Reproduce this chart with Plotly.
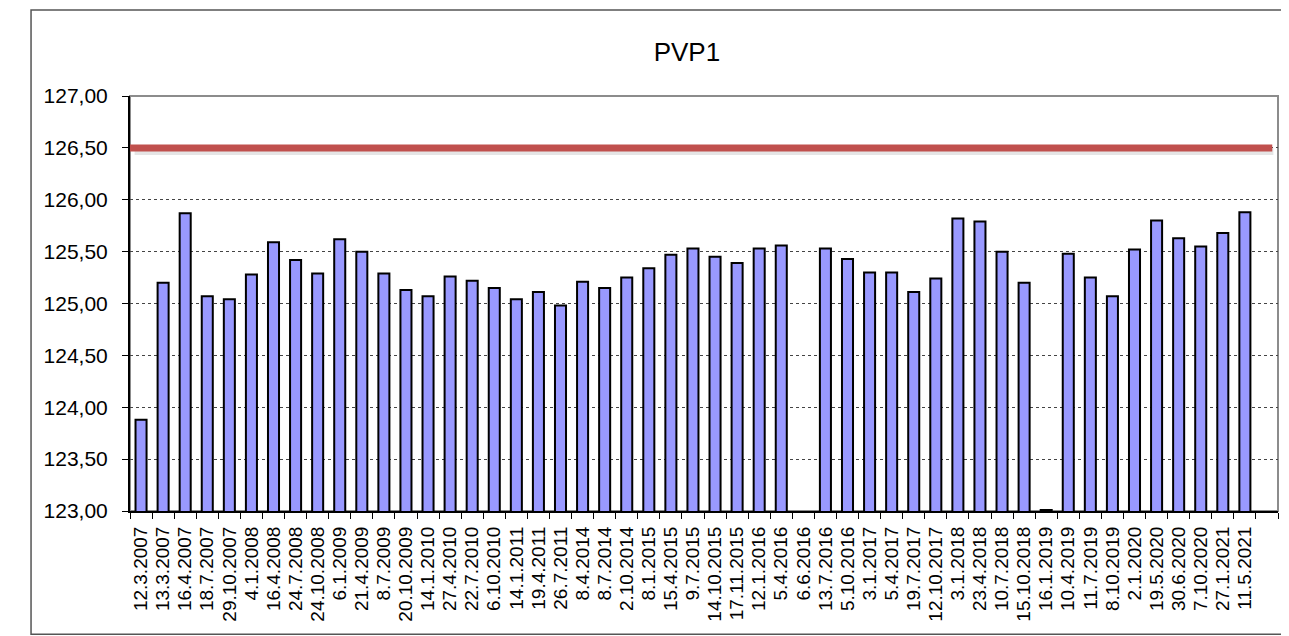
import plotly.graph_objects as go

# ===== DATA =====
dates = [
    "12.3.2007", "13.3.2007", "16.4.2007", "18.7.2007", "29.10.2007",
    "4.1.2008", "16.4.2008", "24.7.2008", "24.10.2008", "6.1.2009",
    "21.4.2009", "8.7.2009", "20.10.2009", "14.1.2010", "27.4.2010",
    "22.7.2010", "6.10.2010", "14.1.2011", "19.4.2011", "26.7.2011",
    "8.4.2014", "8.7.2014", "2.10.2014", "8.1.2015", "15.4.2015",
    "9.7.2015", "14.10.2015", "17.11.2015", "12.1.2016", "5.4.2016",
    "6.6.2016", "13.7.2016", "5.10.2016", "3.1.2017", "5.4.2017",
    "19.7.2017", "12.10.2017", "3.1.2018", "23.4.2018", "10.7.2018",
    "15.10.2018", "16.1.2019", "10.4.2019", "11.7.2019", "8.10.2019",
    "2.1.2020", "19.5.2020", "30.6.2020", "7.10.2020", "27.1.2021",
    "11.5.2021", " ",
]
values = [
    123.88, 125.20, 125.87, 125.07, 125.04,
    125.28, 125.59, 125.42, 125.29, 125.62,
    125.50, 125.29, 125.13, 125.07, 125.26,
    125.22, 125.15, 125.04, 125.11, 124.98,
    125.21, 125.15, 125.25, 125.34, 125.47,
    125.53, 125.45, 125.39, 125.53, 125.56,
    None, 125.53, 125.43, 125.30, 125.30,
    125.11, 125.24, 125.82, 125.79, 125.50,
    125.20, 123.01, 125.48, 125.25, 125.07,
    125.52, 125.80, 125.63, 125.55, 125.68,
    125.88, None,
]
limit = 126.50
y_ticks = [123.0, 123.5, 124.0, 124.5, 125.0, 125.5, 126.0, 126.5, 127.0]

main_font = "Liberation Sans, Arial, sans-serif"

fig = go.Figure()
fig.add_trace(go.Bar(
    x=dates, y=values,
    marker=dict(color="#9999FF", line=dict(color="black", width=2)),
    showlegend=False,
))

# soft shadow under the limit line, then the line itself
fig.add_hline(y=limit - 0.035, x0=0.004, x1=0.996, line_color="rgba(0,0,0,0.10)", line_width=7)
fig.add_hline(y=limit, x0=0, x1=0.995, line_color="#C0504D", line_width=7)

# plot area border (top/right grey)
fig.add_shape(type="rect", xref="paper", yref="paper", x0=0, y0=0, x1=1, y1=1,
              line=dict(color="#8c8c8c", width=2), layer="below")
# outer chart frame
fig.add_shape(type="rect", xref="paper", yref="paper", x0=-0.0862, y0=-0.297, x1=1.05, y1=1.207,
              line=dict(color="#555555", width=1.5), layer="below")

# page body has an 8px margin, so the figure is a bit smaller than the window
fig.update_layout(
    width=1281, height=628,
    margin=dict(l=122, r=11, t=88, b=125, autoexpand=False),
    paper_bgcolor="white", plot_bgcolor="white",
    separators=", ",
    bargap=0.5,
    font=dict(family=main_font, color="black"),
    title=dict(text="PVP1", x=0.53, xanchor="center", y=0.93, yanchor="middle",
               font=dict(size=26, family=main_font, color="black")),
)
fig.update_xaxes(
    type="category", tickangle=-90, tickfont=dict(size=19),
    tickmode="array", tickvals=dates, ticktext=dates, automargin=False,
    ticklabelstandoff=6,
    showline=True, linecolor="black", linewidth=2,
    ticks="outside", ticklen=6, tickcolor="black", tickson="boundaries",
    showgrid=False,
)
fig.update_yaxes(
    range=[123, 127], tickvals=y_ticks, tickformat=".2f", tickfont=dict(size=21),
    automargin=False, ticklabelstandoff=10,
    showline=True, linecolor="black", linewidth=2,
    ticks="outside", ticklen=6, tickcolor="black",
    showgrid=True, gridcolor="#444444", gridwidth=1, griddash="dot",
    zeroline=False,
)

fig.write_html("out.html")
